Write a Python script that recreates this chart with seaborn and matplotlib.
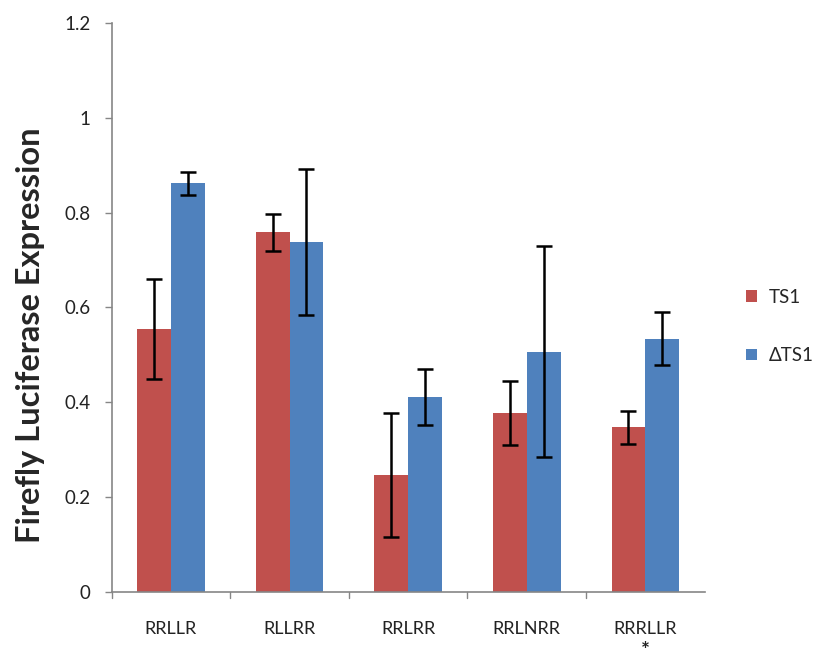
import matplotlib
matplotlib.use("Agg")
import matplotlib.pyplot as plt
import seaborn as sns
import pandas as pd
from matplotlib.patches import Patch

constructs = ["RRLLR", "RLLRR", "RRLRR", "RRLNRR", "RRRLLR"]
marked = "RRRLLR"
series = ["TS1", "\u0394TS1"]
ts1_mean = [0.555, 0.759, 0.247, 0.377, 0.347]
ts1_err = [0.106, 0.039, 0.130, 0.067, 0.035]
dts1_mean = [0.862, 0.737, 0.412, 0.507, 0.534]
dts1_err = [0.024, 0.154, 0.059, 0.223, 0.056]

df = pd.DataFrame({
    "construct": constructs * 2,
    "group": [series[0]] * 5 + [series[1]] * 5,
    "value": ts1_mean + dts1_mean,
})
errors = {series[0]: ts1_err, series[1]: dts1_err}
colors = {series[0]: "#C0504D", series[1]: "#4F81BD"}

sns.set_style("white")
plt.rcParams["font.family"] = ["Lato", "DejaVu Sans"]

fig = plt.figure(figsize=(8.27, 6.53), dpi=100)
ax = fig.add_axes([0.135, 0.0934, 0.717, 0.8716])

sns.barplot(data=df, x="construct", y="value", hue="group", order=constructs,
            hue_order=series, palette=colors, width=0.57, errorbar=None,
            saturation=1, ax=ax, legend=False, linewidth=0)

for cont, name in zip(ax.containers, series):
    xs = [p.get_x() + p.get_width() / 2 for p in cont.patches]
    ys = [p.get_height() for p in cont.patches]
    ax.errorbar(xs, ys, yerr=errors[name], fmt="none", ecolor="black",
                elinewidth=1.8, capsize=5.5, capthick=1.8, zorder=5)

ax.set_ylim(0, 1.2)
ax.set_xlim(-0.5, 4.5)
ax.set_yticks([0, 0.2, 0.4, 0.6, 0.8, 1.0, 1.2])
ax.set_yticklabels(["0", "0.2", "0.4", "0.6", "0.8", "1", "1.2"])
ax.set_xticks(range(5))
ax.set_xticklabels(constructs)
ax.tick_params(axis="x", length=0, pad=21, labelsize=13, colors="#222222")
ax.tick_params(axis="y", length=5, width=1, color="#868686", pad=10,
               labelsize=13.5, labelcolor="#222222", left=True)
# separator ticks between categories on the x axis
for xb in [-0.5, 0.5, 1.5, 2.5, 3.5]:
    ax.plot([xb, xb], [0, -0.012], color="#868686", lw=1, clip_on=False)

# asterisk under the marked construct
ax.annotate("*", xy=(constructs.index(marked), 0), xycoords=("data", "data"),
            xytext=(0, -35), textcoords="offset points", ha="center",
            va="top", fontsize=15, fontweight="bold", color="#222222",
            annotation_clip=False)

for side in ["top", "right"]:
    ax.spines[side].set_visible(False)
for side in ["left", "bottom"]:
    ax.spines[side].set_color("#868686")
    ax.spines[side].set_linewidth(1.2)

ax.set_xlabel("")
ax.set_ylabel("Firefly Luciferase Expression", fontsize=23.5,
              fontweight="bold")
ax.yaxis.set_label_coords(-0.112, 0.452)

handles = [Patch(facecolor=colors[s], edgecolor="none") for s in series]
fig.legend(handles, series, loc="center left", bbox_to_anchor=(0.893, 0.50),
           frameon=False, fontsize=13.5, handlelength=0.6, handleheight=0.6,
           handletextpad=0.6, labelspacing=2.2, borderaxespad=0.0)

fig.savefig("out.png", dpi=100)
